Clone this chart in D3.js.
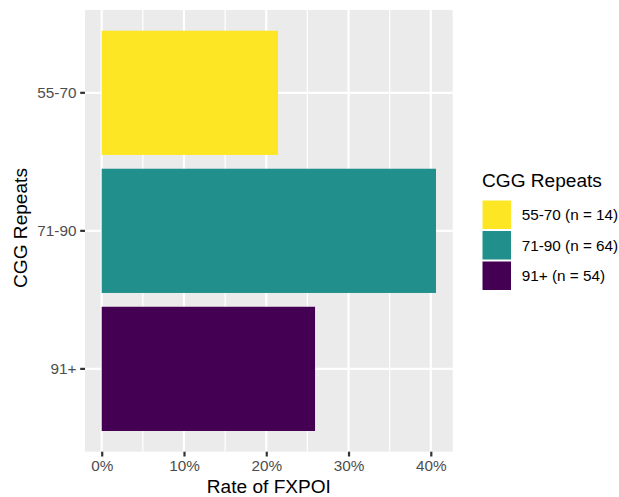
<!DOCTYPE html>
<html><head><meta charset="utf-8">
<script src="https://cdn.jsdelivr.net/npm/d3@7"></script>
<style>body{margin:0;background:#fff}svg text{font-family:"Liberation Sans",Arial,Helvetica,sans-serif}</style>
</head><body><svg id="c" width="619" height="497"></svg>
<script>
const categories = ["55-70", "71-90", "91+"];
const rates = [0.2143, 0.4063, 0.2593];
const counts = [14, 64, 54];
const colors = ["#FDE725", "#21908C", "#440154"];
const xTicks = [0, 0.1, 0.2, 0.3, 0.4];
const xMinor = [0.05, 0.15, 0.25, 0.35];
const xTitle = "Rate of FXPOI";
const yTitle = "CGG Repeats";
const legendTitle = "CGG Repeats";

const svg = d3.select("#c");
const P = {l: 85, r: 452.7, t: 10, b: 451.7};
const mx = d3.max(rates);
const x = d3.scaleLinear().domain([-0.05 * mx, 1.05 * mx]).range([P.l, P.r]);
const y = d3.scaleBand().domain(categories).range([P.t, P.b]).paddingInner(0.1).paddingOuter(0.15);
const col = d3.scaleOrdinal().domain(categories).range(colors);

svg.append("rect").attr("x", P.l).attr("y", P.t).attr("width", P.r - P.l).attr("height", P.b - P.t).attr("fill", "#EBEBEB");
const g = svg.append("g");
g.selectAll(".mn").data(xMinor).join("line").attr("x1", d => x(d)).attr("x2", d => x(d)).attr("y1", P.t).attr("y2", P.b).attr("stroke", "#fff").attr("stroke-width", 1.2);
g.selectAll(".mj").data(xTicks).join("line").attr("x1", d => x(d)).attr("x2", d => x(d)).attr("y1", P.t).attr("y2", P.b).attr("stroke", "#fff").attr("stroke-width", 2.2);
g.selectAll(".hy").data(categories).join("line").attr("x1", P.l).attr("x2", P.r).attr("y1", d => y(d) + y.bandwidth() / 2).attr("y2", d => y(d) + y.bandwidth() / 2).attr("stroke", "#fff").attr("stroke-width", 2.2);

svg.selectAll(".bar").data(categories).join("rect")
  .attr("x", x(0)).attr("y", d => y(d)).attr("height", y.bandwidth())
  .attr("width", (d, i) => x(rates[i]) - x(0)).attr("fill", d => col(d));

// x axis
const xa = svg.append("g").attr("transform", `translate(0,${P.b})`)
  .call(d3.axisBottom(x).tickValues(xTicks).tickFormat(d3.format(".0%")).tickSize(4.8).tickPadding(3.5));
xa.attr("font-size", null).style("font-size", "15.3px");
xa.select(".domain").remove();
xa.selectAll(".tick line").attr("stroke", "#333").attr("stroke-width", 2.2);
xa.selectAll(".tick text").attr("fill", "#4D4D4D").style("font-size", "15.3px");

// y axis
const yc = svg.append("g").attr("transform", `translate(${P.l},0)`)
  .call(d3.axisLeft(y).tickSize(4.8).tickPadding(3.8));
yc.attr("font-size", null).style("font-size", "15.3px");
yc.select(".domain").remove();
yc.selectAll(".tick line").attr("stroke", "#333").attr("stroke-width", 2.2);
yc.selectAll(".tick text").attr("fill", "#4D4D4D").style("font-size", "15.3px");

svg.append("text").attr("x", (P.l + P.r) / 2).attr("y", 493).attr("text-anchor", "middle").style("font-size", "19.1px").attr("fill", "#000").text(xTitle);
svg.append("text").attr("transform", `translate(27,228) rotate(-90)`).attr("text-anchor", "middle").style("font-size", "19.1px").attr("fill", "#000").text(yTitle);

// legend
const L = svg.append("g");
L.append("text").attr("x", 482).attr("y", 186.7).style("font-size", "19.1px").attr("fill", "#000").text(legendTitle);
const items = L.selectAll(".li").data(categories).join("g").attr("transform", (d, i) => `translate(482,${200 + i * 30.5})`);
items.append("rect").attr("width", 29.5).attr("height", 29.5).attr("fill", d => col(d)).attr("stroke", "#fff").attr("stroke-width", 1);
items.append("text").attr("x", 39.7).attr("y", 14.75).attr("dy", "0.35em").style("font-size", "15.3px").attr("fill", "#000")
  .text((d, i) => `${d} (n = ${counts[i]})`);
</script></body></html>
